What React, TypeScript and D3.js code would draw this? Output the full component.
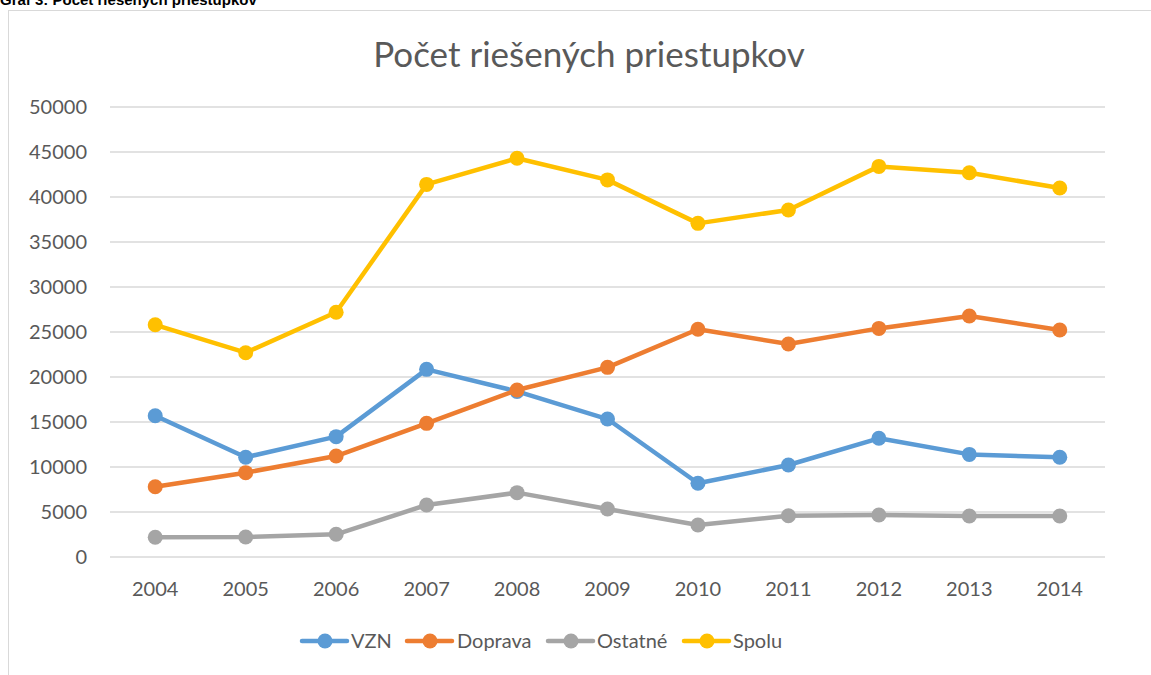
import React from "react";
import * as d3 from "d3";

const years = ["2004", "2005", "2006", "2007", "2008", "2009", "2010", "2011", "2012", "2013", "2014"];
const vzn = [15700, 11080, 13370, 20850, 18400, 15330, 8190, 10220, 13190, 11400, 11080];
const doprava = [7810, 9370, 11220, 14850, 18560, 21070, 25300, 23670, 25400, 26780, 25220];
const ostatne = [2200, 2220, 2520, 5780, 7150, 5330, 3560, 4590, 4670, 4560, 4560];
const spolu = [25800, 22700, 27200, 41400, 44300, 41900, 37070, 38560, 43400, 42700, 41000];
const yTicks = [0, 5000, 10000, 15000, 20000, 25000, 30000, 35000, 40000, 45000, 50000];

const seriesNames = ["VZN", "Doprava", "Ostatné", "Spolu"];
const seriesColors = ["#5B9BD5", "#ED7D31", "#A5A5A5", "#FFC000"];
const seriesData = [vzn, doprava, ostatne, spolu];

const W = 1151;
const H = 675;
const FONT = "Lato, 'Noto Sans', sans-serif";

export default function App() {
  const left = 110;
  const right = 1105;
  const top = 107;
  const bottom = 557;
  const x = d3.scaleBand<string>().domain(years).range([left, right]);
  const y = d3.scaleLinear().domain([0, 50000]).range([bottom, top]);
  const cx = (yr: string) => (x(yr) as number) + x.bandwidth() / 2;
  const line = d3
    .line<number>()
    .x((_, i) => cx(years[i]))
    .y((d) => y(d));

  const legendItems = [
    { lx: 302, tx: 351 },
    { lx: 407, tx: 457 },
    { lx: 548, tx: 597 },
    { lx: 684, tx: 733 },
  ];
  const legendY = 641;

  return (
    <svg
      width={W}
      height={H}
      style={{ position: "absolute", left: 0, top: 0, background: "#fff" }}
      fontFamily={FONT}
    >
      <rect x={0} y={0} width={W} height={H} fill="#fff" />
      <text x={0} y={5} fontSize={15} fontWeight="bold" fill="#000" fontFamily="'Liberation Sans', Arial, sans-serif">
        Graf 3: Počet riešených priestupkov
      </text>
      <rect x={8.5} y={10.5} width={1160} height={700} fill="#fff" stroke="#D9D9D9" strokeWidth={1} />
      <text x={589} y={67} fontSize={35} fill="#595959" textAnchor="middle">
        Počet riešených priestupkov
      </text>
      {yTicks.map((t) => (
        <g key={t}>
          <line x1={left} x2={right} y1={y(t)} y2={y(t)} stroke="#D9D9D9" strokeWidth={1.3} />
          <text x={87} y={y(t) + 7} fontSize={20} fill="#595959" textAnchor="end">
            {t}
          </text>
        </g>
      ))}
      {years.map((yr) => (
        <text key={yr} x={cx(yr)} y={596} fontSize={20} fill="#595959" textAnchor="middle">
          {yr}
        </text>
      ))}
      {seriesData.map((data, si) => (
        <g key={seriesNames[si]}>
          <path d={line(data) as string} fill="none" stroke={seriesColors[si]} strokeWidth={4.5} strokeLinejoin="round" strokeLinecap="round" />
          {data.map((v, i) => (
            <circle key={i} cx={cx(years[i])} cy={y(v)} r={7.5} fill={seriesColors[si]} />
          ))}
        </g>
      ))}
      {seriesNames.map((name, si) => {
        const it = legendItems[si];
        return (
          <g key={name}>
            <line x1={it.lx} x2={it.lx + 45} y1={legendY} y2={legendY} stroke={seriesColors[si]} strokeWidth={4.5} strokeLinecap="round" />
            <circle cx={it.lx + 23} cy={legendY} r={7.5} fill={seriesColors[si]} />
            <text x={it.tx} y={legendY + 7} fontSize={20} fill="#595959">
              {name}
            </text>
          </g>
        );
      })}
    </svg>
  );
}
